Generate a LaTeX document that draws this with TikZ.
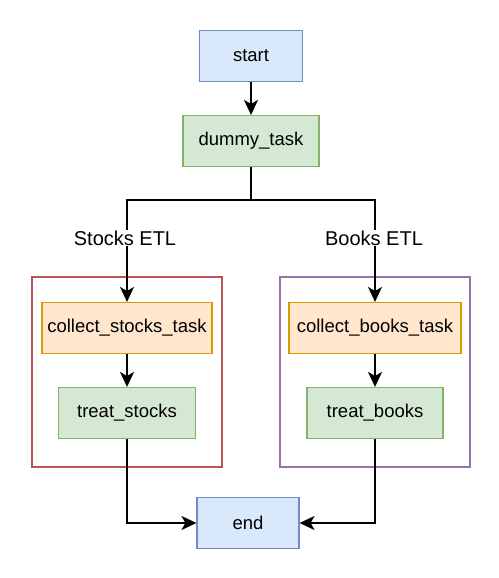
\documentclass[tikz,border=0pt]{standalone}
\usepackage{fontspec}
\setmainfont{Liberation Sans}
\usetikzlibrary{arrows.meta}

\definecolor{bluefill}{HTML}{DAE8FC}
\definecolor{bluedraw}{HTML}{6C8EBF}
\definecolor{greenfill}{HTML}{D5E8D4}
\definecolor{greendraw}{HTML}{82B366}
\definecolor{orangefill}{HTML}{FFE6CC}
\definecolor{orangedraw}{HTML}{D79B00}
\definecolor{reddraw}{HTML}{B85450}
\definecolor{purpledraw}{HTML}{9673A6}

\tikzset{
  task/.style={draw,line width=1.1pt,minimum height=51pt,inner sep=0pt,font=\fontsize{18.5}{22}\selectfont},
  bluetask/.style={task,fill=bluefill,draw=bluedraw},
  greentask/.style={task,fill=greenfill,draw=greendraw},
  orangetask/.style={task,fill=orangefill,draw=orangedraw},
  group/.style={draw,line width=1.1pt,minimum width=190pt,minimum height=190pt},
  flow/.style={line width=1.6pt,-{Stealth[length=15pt,width=14pt,inset=4pt]}},
  etl/.style={fill=white,inner sep=1pt,font=\fontsize{20}{24}\selectfont}
}

\begin{document}
\begin{tikzpicture}[x=1pt,y=-1pt]
  \useasboundingbox (0,0) rectangle (498,578);

  % groups
  \node[group,draw=reddraw] (stocksgrp) at (127,372) {};
  \node[group,draw=purpledraw] (booksgrp) at (375,372) {};

  % tasks
  \node[bluetask,minimum width=103pt] (start) at (251,56) {start};
  \node[greentask,minimum width=136pt] (dummy) at (251,141) {dummy\_task};
  \node[orangetask,minimum width=170pt] (collectstocks) at (127,328) {collect\_stocks\_task};
  \node[greentask,minimum width=137pt] (treatstocks) at (127,413) {treat\_stocks};
  \node[orangetask,minimum width=172pt] (collectbooks) at (375,328) {collect\_books\_task};
  \node[greentask,minimum width=136pt] (treatbooks) at (375,413) {treat\_books};
  \node[bluetask,minimum width=102pt] (endtask) at (248,523) {end};

  \coordinate (forkL) at (127,200);
  \coordinate (forkR) at (375,200);

  % connectors
  \draw[flow] (start) -- (dummy);
  \draw[flow] (dummy.south) -- (dummy.south |- forkL) -- (forkL) -- (collectstocks.north);
  \draw[flow] (dummy.south) -- (dummy.south |- forkR) -- (forkR) -- (collectbooks.north);
  \draw[flow] (collectstocks) -- (treatstocks);
  \draw[flow] (collectbooks) -- (treatbooks);
  \draw[flow] (treatstocks.south) |- (endtask.west);
  \draw[flow] (treatbooks.south) |- (endtask.east);

  % labels
  \node[etl] (stockslbl) at (125,238) {Stocks ETL};
  \node[etl] (bookslbl) at (374,238) {Books ETL};
\end{tikzpicture}
\end{document}
